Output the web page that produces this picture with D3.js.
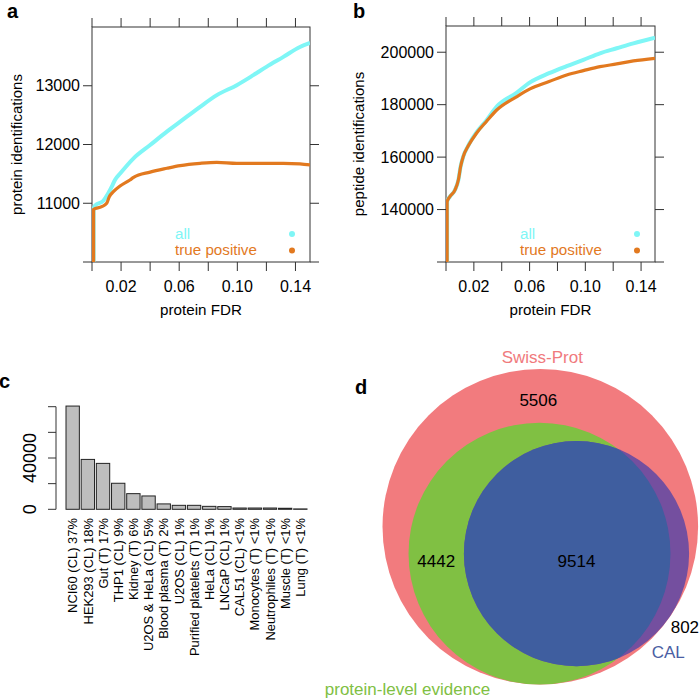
<!DOCTYPE html>
<html><head><meta charset="utf-8">
<script src="https://cdn.jsdelivr.net/npm/d3@7"></script>
<style>
html,body{margin:0;padding:0;background:#fff;}
svg{display:block;font-family:"Liberation Sans",Arial,Helvetica,sans-serif;}
</style></head>
<body><svg id="c" width="700" height="699"></svg>
<script>
// ---------- Panel a data (protein identifications vs protein FDR) ----------
const fdrA_all   = [0.0011,0.0011,0.0021,0.0078,0.0112,0.0136,0.0158,0.0195,0.0286,0.040,0.0515,0.0607,0.0744,0.0859,0.0996,0.111,0.120,0.1317,0.1431,0.150];
const protA_all  = [10000,10900,10960,11043,11170,11282,11396,11510,11765,11991,12218,12388,12642,12840,13010,13180,13321,13491,13660,13728];
const fdrA_tp    = [0.0011,0.0011,0.0067,0.0101,0.0119,0.0147,0.0193,0.0261,0.0286,0.040,0.0515,0.0607,0.0744,0.0859,0.0996,0.111,0.120,0.1317,0.1431,0.150];
const protA_tp   = [10000,10897,10941,10999,11111,11197,11294,11396,11440,11530,11595,11641,11680,11697,11680,11680,11680,11680,11669,11652];
const yTicksA    = [10000,11000,12000,13000];
const yLabelsA   = [11000,12000,13000];
// ---------- Panel b data (peptide identifications vs protein FDR) ----------
const fdrB       = [0.0008,0.0008,0.0029,0.0065,0.0089,0.0105,0.0124,0.016,0.022,0.029,0.0364,0.0506,0.0603,0.0740,0.0866,0.0986,0.1105,0.1225,0.1345,0.150];
const pepB_all   = [120000,143100,145000,147540,151350,156430,160240,164400,169500,174000,179230,184500,188500,192000,194700,197100,199600,201500,203400,205560];
const pepB_tp    = [120000,143100,145000,147540,151350,156430,160240,164300,169200,173600,177970,183000,186000,188800,191340,192990,194510,195530,196670,197690];
const yTicksB    = [120000,140000,160000,180000,200000];
const yLabelsB   = [140000,160000,180000,200000];
const xTicks     = [0,0.02,0.04,0.06,0.08,0.10,0.12,0.14];
const xLabels    = [0.02,0.06,0.10,0.14];
const seriesNames = ["all","true positive"];
// ---------- Panel c data ----------
const samples = ["NCI60 (CL) 37%","HEK293 (CL) 18%","Gut (T) 17%","THP1 (CL) 9%","Kidney (T) 6%","U2OS & HeLa (CL) 5%","Blood plasma (T) 2%","U2OS (CL) 1%","Purified platelets (T) 1%","HeLa (CL) 1%","LNCaP (CL) 1%","CAL51 (CL) <1%","Monocytes (T) <1%","Neutrophiles (T) <1%","Muscle (T) <1%","Lung (T) <1%"];
const sampleCounts = [80500,38900,35800,20300,12200,10400,4200,3100,3100,2300,2100,1000,1000,1000,800,300];
const yTicksC  = [0,20000,40000,60000,80000];
const yLabelsC = [0,40000];
// ---------- Panel d data ----------
const vennSets = ["Swiss-Prot","protein-level evidence","CAL"];
const onlySwiss = 5506, swissEvidence = 4442, evidenceCAL = 9514, swissCAL = 802;

const cyan = "#7ff6f6", orange = "#e2791f";
const svg = d3.select("#c");
const axisCol = "#333";

function linePanel(o){
  const g = svg.append("g");
  const x = d3.scaleLinear().domain([0,0.15]).range([o.x0,o.x1]);
  const y = d3.scaleLinear().domain(o.ydom).range([o.y1,o.y0]);
  const tl = 9;
  g.append("rect").attr("x",o.x0).attr("y",o.y0).attr("width",o.x1-o.x0).attr("height",o.y1-o.y0)
   .attr("fill","none").attr("stroke",axisCol).attr("stroke-width",1);
  xTicks.forEach(t=>{
    g.append("line").attr("x1",x(t)).attr("x2",x(t)).attr("y1",o.y1).attr("y2",o.y1+tl).attr("stroke",axisCol);
    g.append("line").attr("x1",x(t)).attr("x2",x(t)).attr("y1",o.y0).attr("y2",o.y0-tl).attr("stroke",axisCol);
  });
  o.yticks.forEach(t=>{
    g.append("line").attr("y1",y(t)).attr("y2",y(t)).attr("x1",o.x0).attr("x2",o.x0-tl).attr("stroke",axisCol);
    g.append("line").attr("y1",y(t)).attr("y2",y(t)).attr("x1",o.x1).attr("x2",o.x1+tl).attr("stroke",axisCol);
  });
  xLabels.forEach(t=>{
    g.append("text").attr("x",x(t)).attr("y",o.y1+30).attr("text-anchor","middle")
     .attr("font-size",16).text(d3.format(".2f")(t));
  });
  o.ylabels.forEach(t=>{
    g.append("text").attr("x",o.x0-12).attr("y",y(t)).attr("dy","0.35em").attr("text-anchor","end")
     .attr("font-size",16).text(t);
  });
  g.append("text").attr("x",(o.x0+o.x1)/2).attr("y",o.y1+53).attr("text-anchor","middle").attr("font-size",15.2).text("protein FDR");
  g.append("text").attr("transform",`translate(${o.ylabX},${(o.y0+o.y1)/2}) rotate(-90)`).attr("text-anchor","middle")
   .attr("font-size",15).text(o.ylab);
  const clip = "clip"+o.id;
  g.append("clipPath").attr("id",clip).append("rect").attr("x",o.x0).attr("y",o.y0).attr("width",o.x1-o.x0).attr("height",o.y1-o.y0);
  const line = d3.line().x(d=>x(d[0])).y(d=>y(d[1])).curve(d3.curveMonotoneX);
  g.append("path").attr("clip-path",`url(#${clip})`).datum(d3.zip(o.xa,o.ya)).attr("d",line).attr("fill","none")
   .attr("stroke",cyan).attr("stroke-width",4).attr("stroke-linejoin","round");
  g.append("path").attr("clip-path",`url(#${clip})`).datum(d3.zip(o.xt,o.yt)).attr("d",line).attr("fill","none")
   .attr("stroke",orange).attr("stroke-width",3.2).attr("stroke-linejoin","round");
  [cyan,orange].forEach((c,i)=>{
    g.append("text").attr("x",o.legX).attr("y",239+16*i).attr("font-size",15.2).attr("fill",c).text(seriesNames[i]);
    g.append("circle").attr("cx",o.dotX).attr("cy",234+16.5*i).attr("r",3).attr("fill",c);
  });
  g.append("text").attr("x",o.letX).attr("y",18).attr("font-size",20).attr("font-weight","bold").text(o.letter);
}

linePanel({id:"a",x0:92,x1:310,y0:27,y1:262,ydom:[10000,14000],yticks:yTicksA,ylabels:yLabelsA,
  xa:fdrA_all,ya:protA_all,xt:fdrA_tp,yt:protA_tp,ylab:"protein identifications",ylabX:22,
  legX:175,dotX:292,letX:7,letter:"a"});
linePanel({id:"b",x0:446,x1:655,y0:26,y1:262,ydom:[120000,210000],yticks:yTicksB,ylabels:yLabelsB,
  xa:fdrB,ya:pepB_all,xt:fdrB,yt:pepB_tp,ylab:"peptide identifications",ylabX:364,
  legX:520,dotX:637,letX:353,letter:"b"});

// ---------- Panel c ----------
{
  const g = svg.append("g");
  const x = d3.scaleBand().domain(samples).range([66,307]).paddingInner(0.12).paddingOuter(0);
  const y = d3.scaleLinear().domain([0,80000]).range([509.3,406.7]);
  g.selectAll("rect.bar").data(samples).join("rect").attr("class","bar")
   .attr("x",d=>x(d)).attr("width",x.bandwidth())
   .attr("y",(d,i)=>y(sampleCounts[i])).attr("height",(d,i)=>y(0)-y(sampleCounts[i]))
   .attr("fill","#bebebe").attr("stroke","#222").attr("stroke-width",1);
  g.append("line").attr("x1",56).attr("x2",56).attr("y1",y(0)).attr("y2",y(80000)).attr("stroke",axisCol);
  yTicksC.forEach(t=>g.append("line").attr("x1",56).attr("x2",48).attr("y1",y(t)).attr("y2",y(t)).attr("stroke",axisCol));
  yLabelsC.forEach(t=>g.append("text").attr("transform",`translate(36,${y(t)}) rotate(-90)`).attr("text-anchor","middle")
    .attr("font-size",18).text(t));
  const probe = g.append("text").attr("font-size",10).text(samples[0]);
  const w10 = probe.node().getComputedTextLength() || 73;
  probe.remove();
  const nameSize = Math.min(17, Math.max(12, 10*95/w10));
  samples.forEach(s=>g.append("text").attr("transform",`translate(${x(s)+x.bandwidth()/2},518) rotate(-90)`)
    .attr("dy","0.36em").attr("text-anchor","end").attr("font-size",nameSize).text(s));
  g.append("text").attr("x",-1).attr("y",388).attr("font-size",20).attr("font-weight","bold").text("c");
}

// ---------- Panel d (area-proportional Venn) ----------
{
  const g = svg.append("g");
  const total = onlySwiss + swissEvidence + evidenceCAL + swissCAL;
  const evid = swissEvidence + evidenceCAL, cal = evidenceCAL + swissCAL;
  const rS = d3.scaleSqrt().domain([0,total]).range([0,157.8]);
  const rR = rS(total), rG = rS(evid), rC = rS(cal);
  const pxPerUnit = Math.PI*rR*rR/total;
  function lens(r1,r2,d){
    if(d>=r1+r2) return 0;
    if(d<=Math.abs(r1-r2)) return Math.PI*Math.min(r1,r2)**2;
    const a=r1*r1*Math.acos((d*d+r1*r1-r2*r2)/(2*d*r1));
    const b=r2*r2*Math.acos((d*d+r2*r2-r1*r1)/(2*d*r2));
    const c=0.5*Math.sqrt((-d+r1+r2)*(d+r1-r2)*(d-r1+r2)*(d+r1+r2));
    return a+b-c;
  }
  const target = evidenceCAL*pxPerUnit;
  let lo=Math.abs(rG-rC)+1e-6, hi=rG+rC;
  for(let i=0;i<80;i++){const m=(lo+hi)/2; if(lens(rG,rC,m)>target) lo=m; else hi=m;}
  const dGC=(lo+hi)/2;
  const red={x:540.3,y:526.8,r:rR};
  const green={x:red.x-0.8,y:red.y+(rR-rG),r:rG};
  const calC={x:green.x+dGC,y:green.y,r:rC};
  g.append("circle").attr("cx",red.x).attr("cy",red.y).attr("r",red.r).attr("fill","#f27b7e");
  g.append("circle").attr("cx",green.x).attr("cy",green.y).attr("r",green.r).attr("fill","#80c043");
  g.append("circle").attr("cx",calC.x).attr("cy",calC.y).attr("r",calC.r).attr("fill","#744f9f");
  g.append("clipPath").attr("id","clipG").append("circle").attr("cx",green.x).attr("cy",green.y).attr("r",green.r);
  g.append("circle").attr("clip-path","url(#clipG)").attr("cx",calC.x).attr("cy",calC.y).attr("r",calC.r).attr("fill","#3f5e9f");
  const fs=17;
  g.append("text").attr("x",red.x+2).attr("y",red.y-rR-6).attr("text-anchor","middle").attr("font-size",fs).attr("fill","#f07a7d").text(vennSets[0]);
  g.append("text").attr("x",red.x-2).attr("y",(red.y-rR+green.y-rG)/2+4).attr("dy","0.35em").attr("text-anchor","middle").attr("font-size",fs).text(onlySwiss);
  g.append("text").attr("x",(green.x-rG+calC.x-rC)/2).attr("y",green.y+7).attr("dy","0.35em").attr("text-anchor","middle").attr("font-size",fs).text(swissEvidence);
  g.append("text").attr("x",calC.x).attr("y",calC.y+7).attr("dy","0.35em").attr("text-anchor","middle").attr("font-size",fs).text(evidenceCAL);
  g.append("text").attr("x",670.7).attr("y",633).attr("font-size",fs).text(swissCAL);
  g.append("text").attr("x",651.7).attr("y",658.3).attr("font-size",fs).attr("fill","#4a5ea3").text(vennSets[2]);
  g.append("text").attr("x",407.5).attr("y",695).attr("text-anchor","middle").attr("font-size",fs).attr("fill","#80c043").text(vennSets[1]);
  g.append("text").attr("x",355).attr("y",394).attr("font-size",20).attr("font-weight","bold").text("d");
}
</script></body></html>
